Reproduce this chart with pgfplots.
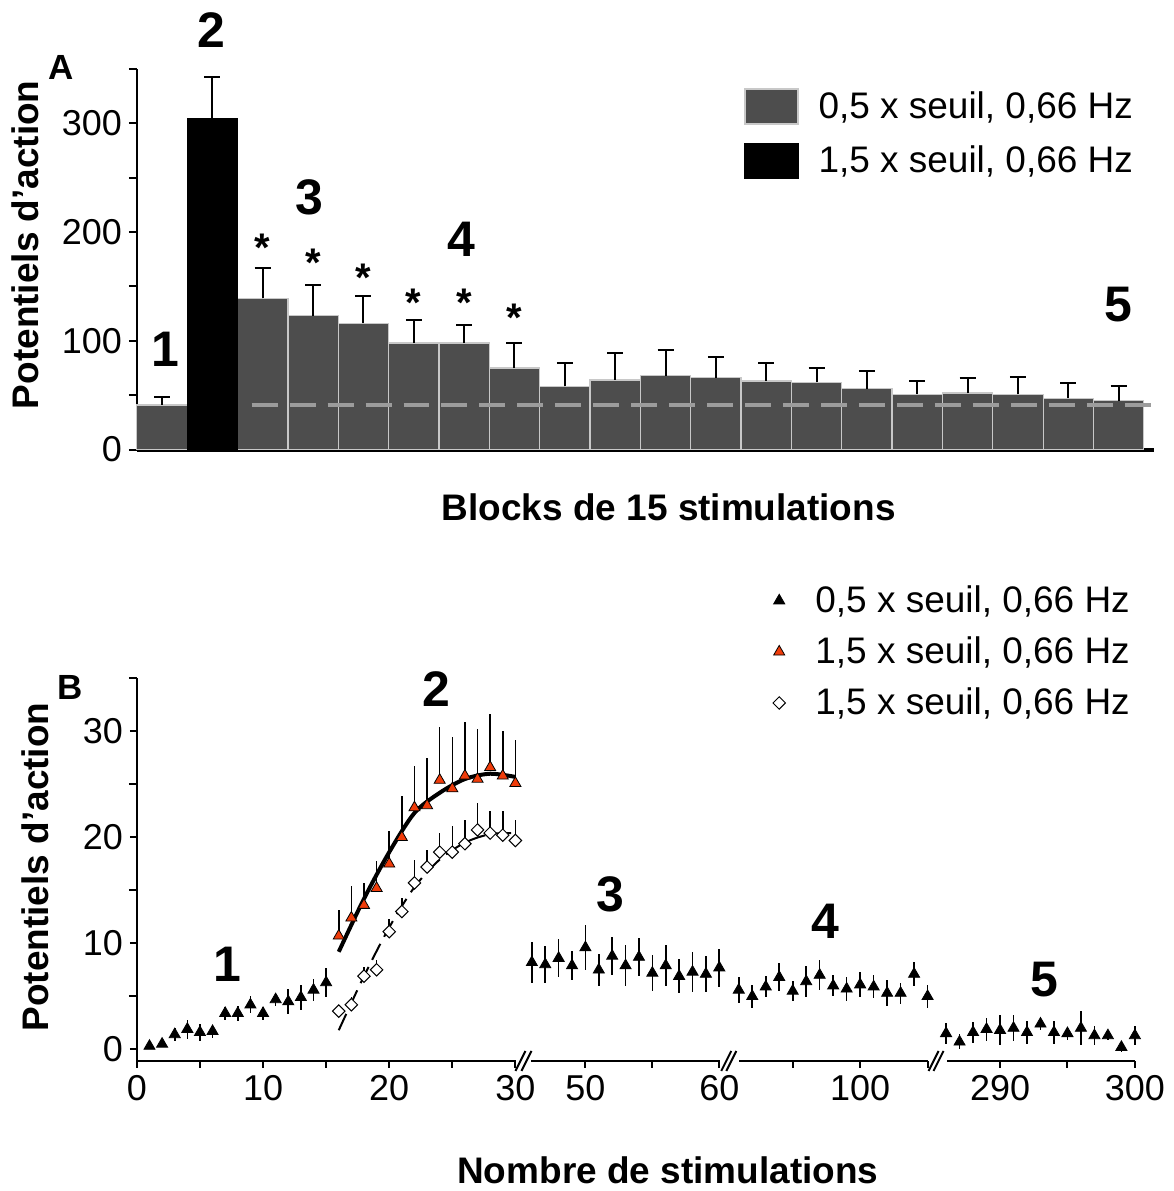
\documentclass[border=0pt]{standalone}
\usepackage{pgfplots}
\pgfplotsset{compat=1.18}
\usepackage{fontspec}
\setmainfont{Liberation Sans}

\definecolor{bargray}{HTML}{4D4D4D}
\definecolor{edgegray}{HTML}{C8C8C8}
\definecolor{dashgray}{HTML}{9C9C9C}
\definecolor{redtri}{HTML}{F03C0A}

\newcommand{\tickfont}{\fontsize{18}{21}\selectfont}
\newcommand{\legfont}{\fontsize{18.5}{22}\selectfont}
\newcommand{\labfont}{\fontsize{18.5}{22}\selectfont\bfseries}
\newcommand{\numfont}{\fontsize{25}{28}\selectfont\bfseries}
\newcommand{\panfont}{\fontsize{17.5}{20}\selectfont\bfseries}
\newcommand{\starfont}{\fontsize{20}{22}\selectfont\bfseries}
% break mark "//" on the x axis of panel B
\newcommand{\brk}[1]{\draw[line width=1pt] ([xshift=-2.5pt,yshift=-5pt]axis cs:#1,-1.1) -- ([xshift=2.5pt,yshift=5pt]axis cs:#1,-1.1);}

\pgfplotsset{
  fig/.style={
    scale only axis, clip=false,
    axis lines=left, axis line style={-, line width=1pt},
    tick align=outside, major tick length=4pt, minor tick length=4pt,
    tick style={black, line width=1pt},
    tick label style={font=\tickfont},
    /pgf/number format/assume math mode=true,
    label style={font=\labfont},
    legend cell align=left,
  },
}

\begin{document}
\begin{tikzpicture}
\begin{scope}[x=0.5pt,y=-0.5pt]
  \useasboundingbox (0,0) rectangle (1175,1191);
\end{scope}

% ---------- A
\begin{axis}[fig,
  at={(68.5pt,-225pt)}, anchor=south west,
  width=509pt, height=190.5pt,
  xmin=0.5, xmax=20.7, ymin=0, ymax=350,
  x axis line style={line width=2pt},
  xtick=\empty,
  ytick={0,100,200,300}, minor ytick={50,150,250,350},
  ylabel={Potentiels d’action},
  ylabel style={at={(axis description cs:-0.11,0.538)}, anchor=center},
  xlabel={Blocks de 15 stimulations},
  xlabel style={at={(axis description cs:0.523,-0.152)}, anchor=center},
  legend style={at={(axis description cs:0.597,0.950)}, anchor=north west,
    draw=none, fill=none, font=\legfont, row sep=9pt, column sep=5pt, inner sep=0pt,
    nodes={inner ysep=0pt, inner xsep=5pt}},
]
\addplot[ybar, bar width=25.2pt, bar shift=0pt, fill=bargray, draw=edgegray, line width=0.6pt,
  legend image code/.code={\draw[fill=bargray, draw=edgegray, line width=0.6pt] (0pt,-8.75pt) rectangle (26.5pt,8.75pt);},
  error bars/.cd, y dir=plus, y explicit,
  error bar style={black, line width=1pt},
  error mark options={rotate=90, black, line width=1pt, mark size=4pt}]
coordinates {
  (1,41) +- (0,7)
  (3,139) +- (0,28)
  (4,123) +- (0,28)
  (5,116) +- (0,25)
  (6,98) +- (0,21)
  (7,98) +- (0,17)
  (8,75) +- (0,23)
  (9,58) +- (0,22)
  (10,64) +- (0,25)
  (11,68) +- (0,24)
  (12,66) +- (0,19)
  (13,63) +- (0,17)
  (14,62) +- (0,13)
  (15,56) +- (0,16)
  (16,51) +- (0,12)
  (17,52) +- (0,14)
  (18,51) +- (0,16)
  (19,47) +- (0,14)
  (20,45) +- (0,13)
};
\addlegendentry{0,5 x seuil, 0,66 Hz}
\addplot[ybar, bar width=25.2pt, bar shift=0pt, fill=black, draw=black, line width=0.6pt,
  legend image code/.code={\draw[fill=black, draw=black, line width=0.6pt] (0pt,-8.75pt) rectangle (26.5pt,8.75pt);},
  error bars/.cd, y dir=plus, y explicit,
  error bar style={black, line width=1pt},
  error mark options={rotate=90, black, line width=1pt, mark size=4pt}]
coordinates {(2,304) +- (0,39)};
\addlegendentry{1,5 x seuil, 0,66 Hz}
% baseline
\addplot[dashgray, line width=2pt, dash pattern=on 13pt off 6pt, forget plot]
  coordinates {(2.78,41) (20.7,41)};

\node[font=\starfont, anchor=base] at (axis cs:3,173) {*};
\node[font=\starfont, anchor=base] at (axis cs:4,159) {*};
\node[font=\starfont, anchor=base] at (axis cs:5,145) {*};
\node[font=\starfont, anchor=base] at (axis cs:6,122) {*};
\node[font=\starfont, anchor=base] at (axis cs:7,122) {*};
\node[font=\starfont, anchor=base] at (axis cs:8,109) {*};

\node[font=\numfont] at (axis cs:1.06,92) {1};
\node[font=\numfont] at (axis cs:1.99,386) {2};
\node[font=\numfont] at (axis cs:3.93,232) {3};
\node[font=\numfont] at (axis cs:6.95,193) {4};
\node[font=\numfont] at (axis cs:20.0,133) {5};
\node[font=\panfont] at (axis description cs:-0.074,1.003) {A};
\end{axis}

% ---------- B
\begin{axis}[fig,
  at={(68.5pt,-531pt)}, anchor=south west,
  width=499.5pt, height=191.5pt,
  x coord trafo/.code={\pgfmathparse{(#1<=32)?(137+12.63*#1):((#1<=70)?(586+13.4*(#1-50)):((#1<=200)?(861+13.5*(#1-100)):(1001+13.5*(#1-290))))}},
  xmin=0, xmax=300, ymin=-1.1, ymax=35,
  x axis line style={draw=none},
  major tick length=3.5pt,
  xtick={0,5,10,15,20,25,30,50,55,60,95,100,105,290,295,300},
  xticklabels={0,,10,,20,,30,50,,60,,100,,290,,300},
  ytick={0,10,20,30}, minor ytick={5,15,25,35},
  ylabel={Potentiels d’action},
  ylabel style={at={(axis description cs:-0.102,0.507)}, anchor=center},
  xlabel={Nombre de stimulations},
  xlabel style={at={(axis description cs:0.532,-0.287)}, anchor=center},
  legend style={at={(axis description cs:0.637,1.243)}, anchor=north west,
    draw=none, fill=none, font=\legfont, row sep=10.7pt, column sep=10pt, inner sep=0pt,
    nodes={inner ysep=0pt, inner xsep=5pt}},
]
% fitted curves
\addplot[black, line width=2pt, smooth, forget plot] coordinates {
  (16,9.2) (18,14.2) (20,18.6) (22,22.3) (24,24.2) (26,25.5) (28,26.0) (30,25.7)};
\addplot[black, line width=1pt, dash pattern=on 9pt off 4pt, smooth, forget plot] coordinates {
  (16,1.8) (18,6.9) (20,11.5) (22,15.3) (24,17.9) (26,19.5) (28,20.3) (30,20.4)};

\addplot[only marks, mark=triangle*, mark size=3.2pt, mark options={fill=black, draw=black},
  error bars/.cd, y dir=both, y explicit, error bar style={black, line width=0.8pt}, error mark=none]
coordinates {
  (1,0.3) +- (0,0.2) (2,0.5) +- (0,0.3) (3,1.4) +- (0,0.6) (4,1.9) +- (0,0.9)
  (5,1.6) +- (0,0.8) (6,1.7) +- (0,0.6) (7,3.4) +- (0,0.6) (8,3.4) +- (0,0.7)
  (9,4.2) +- (0,0.8) (10,3.4) +- (0,0.6) (11,4.7) +- (0,0.6) (12,4.5) +- (0,1.2)
  (13,4.9) +- (0,1.2) (14,5.6) +- (0,1.0) (15,6.3) +- (0,1.4)
  (46,8.2) +- (0,1.9) (47,8.0) +- (0,1.7) (48,8.6) +- (0,1.8) (49,7.9) +- (0,1.4)
  (50,9.6) +- (0,2.1) (51,7.5) +- (0,1.5) (52,8.8) +- (0,1.8) (53,7.9) +- (0,1.9)
  (54,8.7) +- (0,1.8) (55,7.2) +- (0,1.7) (56,7.9) +- (0,1.9) (57,6.9) +- (0,1.6)
  (58,7.3) +- (0,1.9) (59,7.1) +- (0,1.7) (60,7.7) +- (0,1.8)
  (91,5.6) +- (0,1.2) (92,5.0) +- (0,1.1) (93,5.9) +- (0,1.0) (94,6.8) +- (0,1.3)
  (95,5.5) +- (0,0.9) (96,6.4) +- (0,1.5) (97,7.0) +- (0,1.4) (98,6.0) +- (0,1.0)
  (99,5.7) +- (0,1.1) (100,6.1) +- (0,1.2) (101,5.9) +- (0,1.1) (102,5.3) +- (0,1.2)
  (103,5.3) +- (0,1.0) (104,7.1) +- (0,1.1) (105,5.0) +- (0,1.1)
  (286,1.5) +- (0,1.0) (287,0.7) +- (0,0.7) (288,1.6) +- (0,1.0) (289,1.9) +- (0,1.1)
  (290,1.8) +- (0,1.4) (291,2.0) +- (0,1.2) (292,1.6) +- (0,1.1) (293,2.4) +- (0,0.6)
  (294,1.6) +- (0,1.1) (295,1.5) +- (0,0.6) (296,2.0) +- (0,1.6) (297,1.3) +- (0,0.9)
  (298,1.3) +- (0,0.4) (299,0.2) +- (0,0.5) (300,1.3) +- (0,0.9)
};
\addlegendentry{0,5 x seuil, 0,66 Hz}

\addplot[only marks, mark=triangle*, mark size=3.2pt, mark options={fill=redtri, draw=black, line width=0.4pt},
  error bars/.cd, y dir=plus, y explicit, error bar style={black, line width=0.8pt}, error mark=none]
coordinates {
  (16,10.7) +- (0,2.4) (17,12.4) +- (0,3.0) (18,13.6) +- (0,2.1) (19,15.2) +- (0,2.6)
  (20,17.5) +- (0,3.1) (21,20.0) +- (0,3.9) (22,22.8) +- (0,3.9) (23,23.0) +- (0,4.5)
  (24,25.4) +- (0,5.0) (25,24.6) +- (0,4.9) (26,25.8) +- (0,5.1) (27,25.5) +- (0,4.7)
  (28,26.6) +- (0,5.0) (29,25.8) +- (0,4.2) (30,25.1) +- (0,4.1)
};
\addlegendentry{1,5 x seuil, 0,66 Hz}

\addplot[only marks, mark=square*, mark size=2.2pt, mark options={rotate=45, fill=white, draw=black, line width=0.5pt},
  error bars/.cd, y dir=plus, y explicit, error bar style={black, line width=0.8pt}, error mark=none]
coordinates {
  (16,3.6) +- (0,0.6) (17,4.2) +- (0,0.7) (18,6.9) +- (0,0.9) (19,7.5) +- (0,0.9)
  (20,11.1) +- (0,1.2) (21,13.0) +- (0,1.3) (22,15.7) +- (0,2.2) (23,17.2) +- (0,1.6)
  (24,18.6) +- (0,1.8) (25,18.6) +- (0,2.5) (26,19.4) +- (0,2.2) (27,20.7) +- (0,2.5)
  (28,20.4) +- (0,2.1) (29,20.2) +- (0,2.3) (30,19.7) +- (0,1.9)
};
\addlegendentry{1,5 x seuil, 0,66 Hz}

% broken x axis
\draw[line width=1.2pt] (axis cs:0,-1.1) -- (axis cs:30.05,-1.1);
\draw[line width=1.2pt] (axis cs:45.97,-1.1) -- (axis cs:60.05,-1.1);
\draw[line width=1.2pt] (axis cs:91.04,-1.1) -- (axis cs:105.05,-1.1);
\draw[line width=1.2pt] (axis cs:286.07,-1.1) -- (axis cs:300,-1.1);
\brk{30.40}\brk{30.88}
\brk{60.52}\brk{60.90}
\brk{105.44}\brk{105.81}

\node[font=\numfont] at (axis cs:7.2,8.0) {1};
\node[font=\numfont] at (axis cs:23.75,34.0) {2};
\node[font=\numfont] at (axis cs:51.9,14.6) {3};
\node[font=\numfont] at (axis cs:97.4,12.1) {4};
\node[font=\numfont] at (axis cs:293.3,6.6) {5};
\node[font=\panfont] at (axis description cs:-0.067,0.977) {B};
\end{axis}
\end{tikzpicture}
\end{document}
